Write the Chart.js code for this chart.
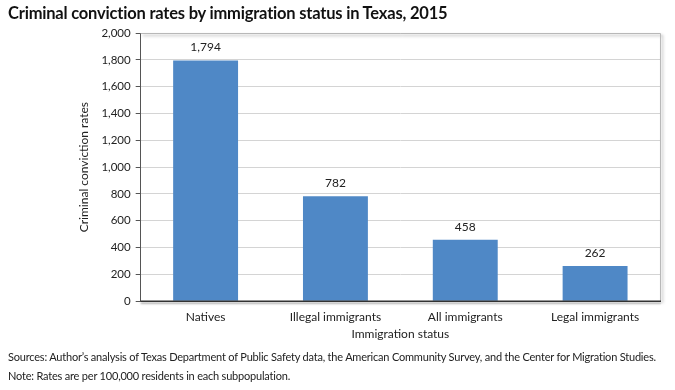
<!DOCTYPE html>
<html>
<head>
<meta charset="utf-8">
<script src="https://cdn.jsdelivr.net/npm/chart.js@4.4.0/dist/chart.umd.min.js"></script>
<style>
  html, body { margin: 0; padding: 0; background: #fff; }
  #wrap { position: relative; width: 675px; height: 390px; overflow: hidden; }
  #chart { position: absolute; left: 0; top: 0; }
  .title {
    position: absolute; left: 8px; top: 3px;
    font-family: Lato, "Open Sans", sans-serif; font-weight: bold; font-size: 16.5px; color: #111;
    letter-spacing: -0.2px;
  }
  .foot {
    position: absolute; left: 8px;
    font-family: Lato, "Open Sans", sans-serif; font-size: 11px; color: #222; letter-spacing: -0.2px;
  }
</style>
</head>
<body>
<div id="wrap">
  <canvas id="chart" width="675" height="390"></canvas>
  <div class="title">Criminal conviction rates by immigration status in Texas, 2015</div>
  <div class="foot" style="top:350px">Sources: Author’s analysis of Texas Department of Public Safety data, the American Community Survey, and the Center for Migration Studies.</div>
  <div class="foot" style="top:369px">Note: Rates are per 100,000 residents in each subpopulation.</div>
</div>
<script>
const categories = ['Natives', 'Illegal immigrants', 'All immigrants', 'Legal immigrants'];
const rates = [1794, 782, 458, 262];
const yTicks = [0, 200, 400, 600, 800, 1000, 1200, 1400, 1600, 1800, 2000];

const font = 'Lato, "Open Sans", sans-serif';

// value labels above each bar
const barLabels = {
  id: 'barLabels',
  afterDatasetsDraw(chart) {
    const ctx = chart.ctx;
    const meta = chart.getDatasetMeta(0);
    ctx.save();
    ctx.font = '12px ' + font;
    ctx.fillStyle = '#222';
    ctx.textAlign = 'center';
    ctx.textBaseline = 'bottom';
    meta.data.forEach((bar, i) => {
      ctx.fillText(rates[i].toLocaleString('en-US'), bar.x, bar.y - 7);
    });
    ctx.restore();
  }
};

// frame: light top/right border with a soft shadow, dark base line
const frame = {
  id: 'frame',
  beforeDatasetsDraw(chart) {
    const { ctx, chartArea: a } = chart;
    ctx.save();
    ctx.shadowColor = 'rgba(0,0,0,0.35)';
    ctx.shadowBlur = 3;
    ctx.shadowOffsetX = 2;
    ctx.shadowOffsetY = 2;
    ctx.strokeStyle = '#b8b8b8';
    ctx.lineWidth = 1;
    ctx.beginPath();
    ctx.moveTo(a.left, a.top + 0.5);
    ctx.lineTo(a.right + 0.5, a.top + 0.5);
    ctx.lineTo(a.right + 0.5, a.bottom);
    ctx.stroke();
    ctx.restore();
  },
  afterDatasetsDraw(chart) {
    const { ctx, chartArea: a } = chart;
    ctx.save();
    ctx.shadowColor = 'rgba(0,0,0,0.35)';
    ctx.shadowBlur = 2;
    ctx.shadowOffsetY = 2;
    ctx.strokeStyle = '#333';
    ctx.lineWidth = 1.5;
    ctx.beginPath();
    ctx.moveTo(a.left, a.bottom);
    ctx.lineTo(a.right + 1, a.bottom);
    ctx.stroke();
    ctx.restore();
  }
};

new Chart(document.getElementById('chart'), {
  type: 'bar',
  data: {
    labels: categories,
    datasets: [{
      data: rates,
      backgroundColor: '#4f88c6',
      borderWidth: 0,
      categoryPercentage: 1,
      barPercentage: 0.5
    }]
  },
  options: {
    responsive: false,
    animation: false,
    layout: { padding: { top: 33, right: 15, bottom: 49, left: 77 } },
    plugins: { legend: { display: false }, tooltip: { enabled: false } },
    scales: {
      x: {
        grid: { display: false, drawTicks: false },
        border: { display: false },
        ticks: { color: '#222', font: { family: font, size: 12 }, padding: 9 },
        title: { display: true, text: 'Immigration status', color: '#222', font: { family: font, size: 12 }, padding: { top: -7, bottom: 0 } }
      },
      y: {
        min: 0,
        max: 2000,
        afterBuildTicks(axis) { axis.ticks = yTicks.map(v => ({ value: v })); },
        grid: { color: '#d4d4d4', tickColor: '#555', tickLength: 5 },
        border: { display: true, color: '#555' },
        ticks: {
          color: '#222',
          font: { family: font, size: 11.5 },
          padding: 5,
          callback: v => v.toLocaleString('en-US')
        },
        title: { display: true, text: 'Criminal conviction rates', color: '#222', font: { family: font, size: 12 }, padding: { top: 0, bottom: 5 } }
      }
    }
  },
  plugins: [frame, barLabels]
});
</script>
</body>
</html>
